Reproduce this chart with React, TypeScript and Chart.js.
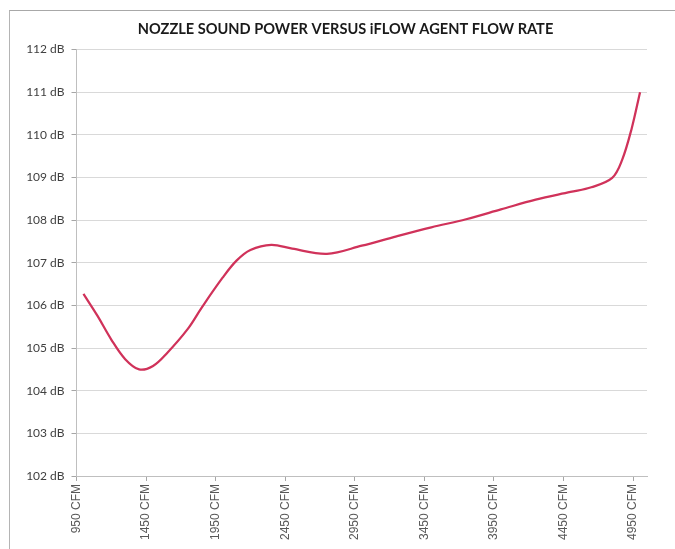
import { useEffect, useRef } from "react";
import { Chart, registerables } from "chart.js";

Chart.register(...registerables);

const chartTitle = "NOZZLE SOUND POWER VERSUS iFLOW AGENT FLOW RATE";

// Flow rate (CFM) and nozzle sound power (dB)
const flowRates = [
  1000, 1100, 1200, 1300, 1400, 1500, 1600, 1750, 1850, 2000, 2100, 2200, 2350,
  2500, 2750, 3000, 3250, 3500, 3750, 4000, 4250, 4500, 4650, 4800, 4870, 4940, 5000,
];
const soundPower = [
  106.27, 105.76, 105.2, 104.74, 104.5, 104.58, 104.88, 105.45, 105.95, 106.65,
  107.05, 107.3, 107.42, 107.33, 107.21, 107.4, 107.62, 107.83, 108.02, 108.25,
  108.48, 108.66, 108.77, 108.99, 109.4, 110.15, 111.0,
];

const xTickValues = [950, 1450, 1950, 2450, 2950, 3450, 3950, 4450, 4950];
const xMin = 950;
const xMax = 5050;
const yMin = 102;
const yMax = 112;

export default function App() {
  const canvasRef = useRef<HTMLCanvasElement | null>(null);

  useEffect(() => {
    if (!canvasRef.current) return;
    const chart = new Chart(canvasRef.current, {
      type: "line",
      data: {
        datasets: [
          {
            label: "Sound Power",
            data: flowRates.map((x, i) => ({ x, y: soundPower[i] })),
            borderColor: "#d0325a",
            borderWidth: 2.25,
            pointRadius: 0,
            fill: false,
            tension: 0.35,
            xAxisID: "x",
            yAxisID: "y",
          },
        ],
      },
      options: {
        animation: false,
        responsive: false,
        maintainAspectRatio: false,
        layout: { padding: 0 },
        plugins: {
          legend: { display: false },
          tooltip: { enabled: false },
          title: {
            display: true,
            text: chartTitle,
            color: "#1a1a1a",
            font: { family: "Lato", size: 14.6, weight: "bold" },
            padding: { top: 10, bottom: 11 },
          },
        },
        scales: {
          x: {
            type: "linear",
            min: xMin,
            max: xMax,
            afterBuildTicks: (scale: any) => {
              scale.ticks = xTickValues.map((v) => ({ value: v }));
            },
            afterFit: (scale: any) => {
              scale.height = 73;
            },
            grid: {
              drawOnChartArea: false,
              drawTicks: true,
              tickLength: 5,
              color: "#a6a6a6",
            },
            border: { color: "#bfbfbf" },
            ticks: {
              autoSkip: false,
              minRotation: 90,
              maxRotation: 90,
              padding: 3,
              color: "#595959",
              font: { family: "Liberation Sans", size: 12 },
              callback: (v: any) => `${v} CFM`,
            },
          },
          y: {
            type: "linear",
            position: "left",
            min: yMin,
            max: yMax,
            afterFit: (scale: any) => {
              scale.width = 66.5;
            },
            grid: {
              color: "#d9d9d9",
              drawTicks: true,
              tickLength: 5,
              tickColor: "#a6a6a6",
            },
            border: { color: "#bfbfbf" },
            ticks: {
              stepSize: 1,
              padding: 7,
              color: "#404040",
              font: { family: "Lato", size: 12 },
              callback: (v: any) => `${v} dB`,
            },
          },
          ySpacer: {
            type: "linear",
            position: "right",
            min: yMin,
            max: yMax,
            afterFit: (scale: any) => {
              scale.width = 34;
            },
            grid: { display: false, drawTicks: false },
            border: { display: false },
            ticks: { display: false },
          },
        },
      },
    } as any);
    return () => chart.destroy();
  }, []);

  return (
    <div style={{ position: "fixed", left: 0, top: 0, width: 675, height: 549, overflow: "hidden" }}>
      <div
        style={{
          position: "absolute",
          left: 9,
          top: 10,
          width: 700,
          height: 600,
          borderLeft: "1px solid #b4b4b4",
          borderTop: "1px solid #a8a8a8",
        }}
      />
      <canvas
        ref={canvasRef}
        width={671}
        height={538}
        style={{ position: "absolute", left: 10, top: 11, width: 671, height: 538 }}
      />
    </div>
  );
}
